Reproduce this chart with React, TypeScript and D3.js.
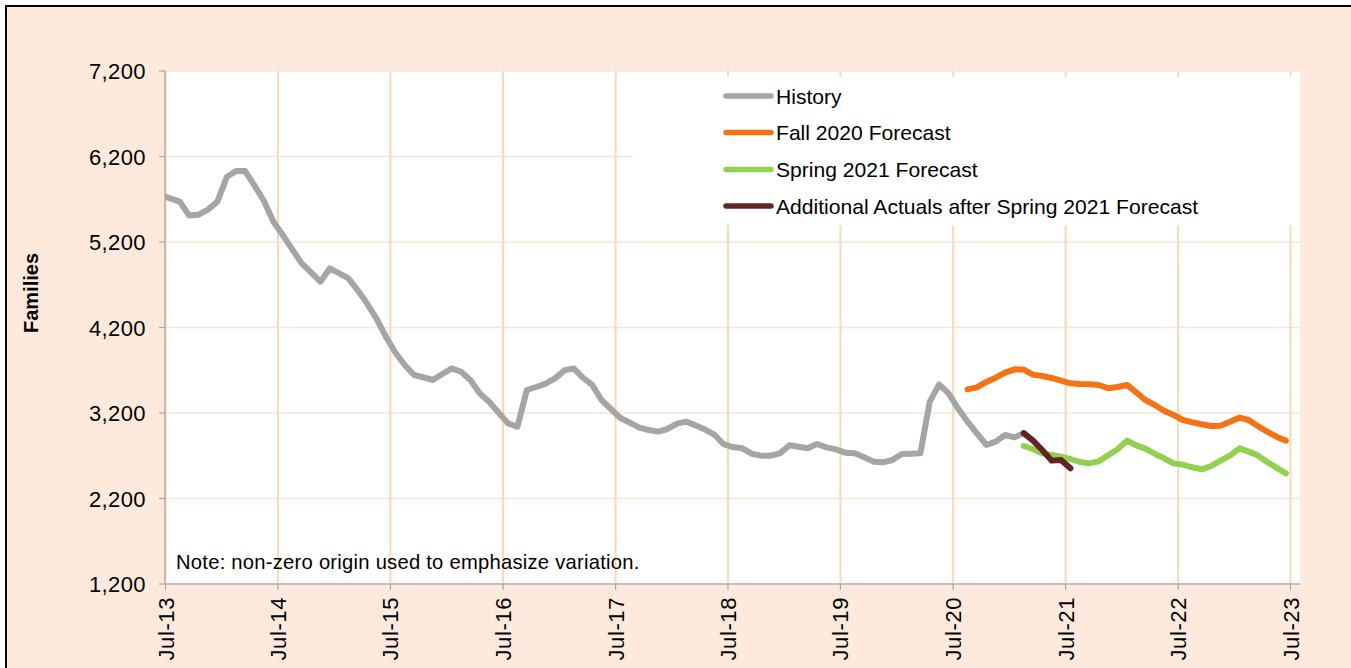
import React from 'react';
import * as d3 from 'd3';

// monthly values, one per month, plotted at mid-month
const yTicks = [1200, 2200, 3200, 4200, 5200, 6200, 7200];
const xTickLabels = ['Jul-13', 'Jul-14', 'Jul-15', 'Jul-16', 'Jul-17', 'Jul-18', 'Jul-19', 'Jul-20', 'Jul-21', 'Jul-22', 'Jul-23'];

const historyStart = 'Jun-13';
const historyValues = [
  5750, 5710, 5672, 5510, 5520, 5580, 5672, 5964, 6030, 6030, 5860, 5680, 5440,
  5282, 5114, 4950, 4845, 4736, 4892, 4833, 4775, 4638, 4482, 4307, 4096, 3910,
  3761, 3644, 3617, 3586, 3656, 3722, 3683, 3586, 3430, 3332, 3207, 3079, 3040,
  3469, 3504, 3543, 3605, 3700, 3722, 3615, 3528, 3352, 3247, 3142, 3087, 3029,
  3001, 2982, 3013, 3075, 3099, 3056, 3009, 2951, 2837, 2802, 2787, 2724, 2701,
  2701, 2728, 2822, 2806, 2787, 2837, 2798, 2775, 2736, 2728, 2682, 2631, 2623,
  2650, 2720, 2724, 2728, 3333, 3535, 3430, 3255, 3099, 2962, 2826, 2865, 2943,
  2915, 2965,
];

const fall2020Start = 'Aug-20';
const fall2020Values = [
  3477, 3500, 3563, 3613, 3672, 3711, 3707, 3649, 3633, 3610, 3578, 3547, 3539,
  3535, 3528, 3489, 3504, 3528, 3442, 3352, 3294, 3227, 3177, 3118, 3091, 3068,
  3048, 3052, 3099, 3146, 3118, 3048, 2982, 2923, 2877,
];

const spring2021Start = 'Feb-21';
const spring2021Values = [
  2814, 2779, 2728, 2709, 2689, 2662, 2627, 2611, 2635, 2705, 2775, 2877, 2822,
  2783, 2724, 2670, 2611, 2596, 2565, 2541, 2580, 2643, 2701, 2787, 2748, 2705,
  2627, 2561, 2494,
];

const actualsStart = 'Feb-21';
const actualsValues = [2965, 2880, 2767, 2643, 2650, 2553];

const seriesNames = ['History', 'Fall 2020 Forecast', 'Spring 2021 Forecast', 'Additional Actuals after Spring 2021 Forecast'];
const seriesColors = ['#A5A5A5', '#F47314', '#92D050', '#632523'];

const parseMonth = d3.timeParse('%b-%y');
const FONT = '"Liberation Sans", Arial, sans-serif';

function toPoints(start: string, values: number[]) {
  const m0 = parseMonth(start) as Date;
  return values.map((v, i) => {
    const a = d3.timeMonth.offset(m0, i).getTime();
    const b = d3.timeMonth.offset(m0, i + 1).getTime();
    return { date: new Date((a + b) / 2), value: v };
  });
}

export default function App() {
  const width = 1351;
  const height = 668;
  const plot = { left: 165, top: 71, right: 1300, bottom: 584 };

  const tickDates = xTickLabels.map((l) => parseMonth(l) as Date);
  const x = d3.scaleTime()
    .domain([tickDates[0], tickDates[tickDates.length - 1]])
    .range([165.5, 1290.5]);
  const y = d3.scaleLinear().domain([1200, 7200]).range([plot.bottom, plot.top]);

  const line = d3.line<{ date: Date; value: number }>()
    .x((d) => x(d.date))
    .y((d) => y(d.value));

  const series = [
    toPoints(historyStart, historyValues),
    toPoints(fall2020Start, fall2020Values),
    toPoints(spring2021Start, spring2021Values),
    toPoints(actualsStart, actualsValues),
  ];

  const legendRows = [96, 132.5, 169.5, 206];

  return (
    <svg width={width} height={height} style={{ position: 'absolute', left: 0, top: 0 }} fontFamily={FONT}>
      <rect x={0} y={0} width={width} height={height} fill="#fff" />
      <rect x={6} y={6} width={width + 10} height={height + 10} fill="#FDEADC" stroke="#000" strokeWidth={2} />
      <defs>
        <clipPath id="plotclip">
          <rect x={plot.left} y={plot.top - 5} width={plot.right - plot.left} height={plot.bottom - plot.top + 5} />
        </clipPath>
      </defs>
      <rect x={plot.left} y={plot.top} width={plot.right - plot.left} height={plot.bottom - plot.top} fill="#fff" />

      {yTicks.map((t) => (
        <line key={'hg' + t} x1={plot.left} x2={plot.right} y1={y(t)} y2={y(t)} stroke="#FCE4CF" strokeWidth={1.5} />
      ))}
      {tickDates.map((d, i) => (
        <line key={'vg' + i} x1={x(d)} x2={x(d)} y1={plot.top} y2={plot.bottom} stroke="#FAD8B6" strokeWidth={2} />
      ))}

      {/* y axis */}
      <line x1={plot.left} x2={plot.left} y1={plot.top} y2={plot.bottom} stroke="#A6A6A6" strokeWidth={1.2} />
      {yTicks.map((t) => (
        <g key={'yt' + t}>
          <line x1={plot.left - 6} x2={plot.left} y1={y(t)} y2={y(t)} stroke="#A6A6A6" strokeWidth={1.2} />
          <text x={146} y={y(t) + 8} textAnchor="end" fontSize={22} letterSpacing={0.4} fill="#000">
            {d3.format(',')(t)}
          </text>
        </g>
      ))}

      {/* x axis */}
      <line x1={plot.left} x2={plot.right} y1={plot.bottom} y2={plot.bottom} stroke="#BFBFBF" strokeWidth={2} />
      {tickDates.map((d, i) => (
        <g key={'xt' + i}>
          <line x1={x(d)} x2={x(d)} y1={plot.bottom} y2={plot.bottom + 6} stroke="#A6A6A6" strokeWidth={1.2} />
          <text
            transform={`translate(${x(d) + 8},597) rotate(-90)`}
            textAnchor="end"
            fontSize={22}
            letterSpacing={0.6}
            fill="#000"
          >
            {xTickLabels[i]}
          </text>
        </g>
      ))}

      <text transform="translate(37.5,293) rotate(-90)" textAnchor="middle" fontSize={20} fontWeight="bold" fill="#000">
        Families
      </text>

      <text x={176} y={569} fontSize={20.2} letterSpacing={0.25} fill="#000">
        Note: non-zero origin used to emphasize variation.
      </text>

      {/* legend */}
      <rect x={632} y={77} width={plot.right - 632} height={148} fill="#fff" />
      {seriesNames.map((name, i) => (
        <g key={'lg' + i}>
          <line x1={726} x2={771} y1={legendRows[i]} y2={legendRows[i]} stroke={seriesColors[i]} strokeWidth={5.5} strokeLinecap="round" />
          <text x={776} y={legendRows[i] + 7.5} fontSize={21.1} fill="#000">
            {name}
          </text>
        </g>
      ))}

      <g clipPath="url(#plotclip)" fill="none" strokeLinejoin="round" strokeLinecap="round">
        {series.map((s, i) => (
          <path key={'s' + i} d={line(s) || ''} stroke={seriesColors[i]} strokeWidth={6} />
        ))}
      </g>
    </svg>
  );
}
